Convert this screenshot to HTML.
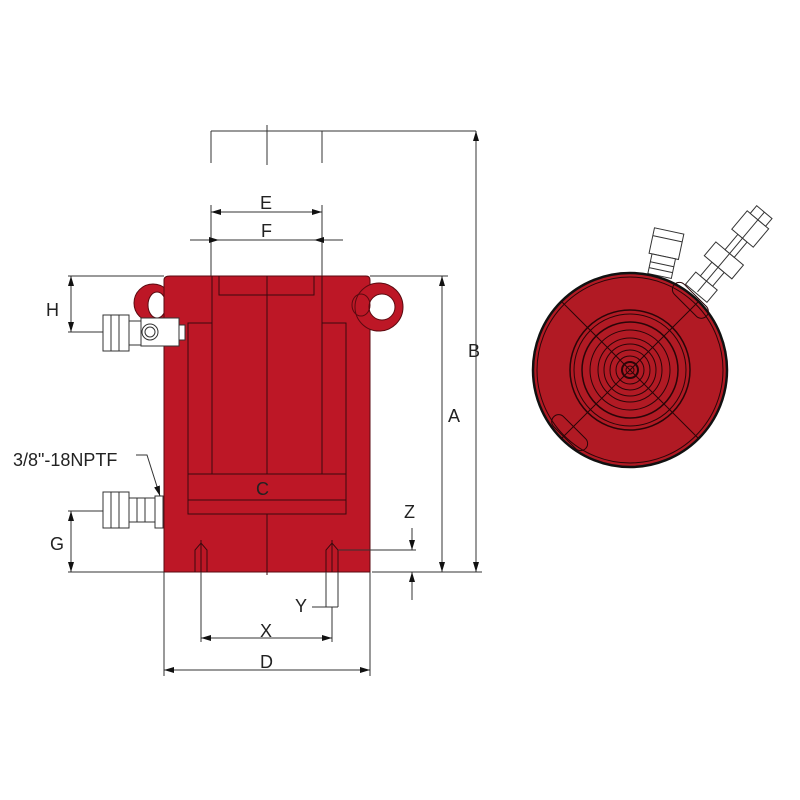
<!DOCTYPE html>
<html><head><meta charset="utf-8"><style>html,body{margin:0;padding:0;background:#fff}svg{display:block}text{font-family:"Liberation Sans",sans-serif;font-size:18px;fill:#222}</style></head><body>
<svg width="800" height="800" viewBox="0 0 800 800" xmlns="http://www.w3.org/2000/svg">
<defs>
<marker id="a" viewBox="0 0 10 6" refX="10" refY="3" markerWidth="10" markerHeight="6" orient="auto-start-reverse" markerUnits="userSpaceOnUse"><path d="M0,0L10,3L0,6z" fill="#111"/></marker>
</defs>
<g stroke="#333" stroke-width="1" fill="none">
<path d="M211,131H476M211,131V163M322,131V163M267,125V165"/>
<line x1="211" y1="212" x2="322" y2="212" marker-start="url(#a)" marker-end="url(#a)"/>
<path d="M211,205V276M322,205V276"/>
<line x1="190" y1="240" x2="219" y2="240" marker-end="url(#a)"/>
<line x1="343" y1="240" x2="314" y2="240" marker-end="url(#a)"/>
<path d="M219,240H314"/>
<path d="M370,276H448M372,572H482M68,276H164M68,572H164"/>
<line x1="476" y1="131" x2="476" y2="572" marker-start="url(#a)" marker-end="url(#a)"/>
<line x1="442" y1="276" x2="442" y2="572" marker-start="url(#a)" marker-end="url(#a)"/>
<line x1="71" y1="276" x2="71" y2="332" marker-start="url(#a)" marker-end="url(#a)"/>
<path d="M68,332H190"/>
<line x1="71" y1="511" x2="71" y2="572" marker-start="url(#a)" marker-end="url(#a)"/>
<path d="M68,511H170"/>
</g>
<circle cx="153" cy="303" r="19" fill="#bd1726" stroke="#5a0a10"/>
<ellipse cx="157" cy="305" rx="9" ry="13" fill="#fff" stroke="#5a0a10"/>
<path d="M164,280Q164,276 170,276H366Q370,276 370,280V572H164Z" fill="#bd1726" stroke="#5a0a10"/>
<circle cx="379" cy="307" r="24" fill="#bd1726" stroke="#5a0a10"/>
<circle cx="382" cy="307" r="13" fill="#fff" stroke="#5a0a10"/>
<ellipse cx="361" cy="305" rx="9" ry="11" fill="none" stroke="#5a0a10"/>
<g stroke="#3a0a0e" stroke-width="1" fill="none">
<path d="M219,276V295H314V276M267,276V474M267,514V575"/>
<path d="M188,474V323H212V474M346,474V323H322V474M212,276V323M322,276V323"/>
<rect x="188" y="474" width="158" height="40"/>
<path d="M188,500H346"/>
<path d="M195,572V550L201,543L207,550V572M326,572V550L332,543L338,550V572M201,540V572M332,540V572"/>
</g>
<g stroke="#333" fill="#fff" stroke-width="1">
<rect x="103" y="315" width="26" height="36"/>
<path d="M111,315V351M119,315V351"/>
<rect x="129" y="321" width="12" height="24"/>
<rect x="141" y="318" width="38" height="28"/>
<circle cx="150" cy="332" r="8"/><circle cx="150" cy="332" r="5"/>
<rect x="179" y="325" width="6" height="15"/>
<rect x="103" y="492" width="26" height="36"/>
<path d="M111,492V528M119,492V528"/>
<rect x="129" y="498" width="26" height="24"/>
<path d="M137,498V522M145,498V522"/>
<rect x="155" y="496" width="8" height="32"/>
</g>
<g stroke="#333" fill="none">
<path d="M136,455H147L160,496" marker-end="url(#a)"/>
<line x1="201" y1="572" x2="201" y2="642"/>
<path d="M326,572V607M338,572V607M312,607H338M332,607V642"/>
<line x1="201" y1="638" x2="332" y2="638" marker-start="url(#a)" marker-end="url(#a)"/>
<path d="M164,572V676M370,572V676"/>
<line x1="164" y1="670" x2="370" y2="670" marker-start="url(#a)" marker-end="url(#a)"/>
<path d="M338,550H416"/>
<line x1="412" y1="528" x2="412" y2="550" marker-end="url(#a)"/>
<line x1="412" y1="600" x2="412" y2="572" marker-end="url(#a)"/>
</g>
<text x="260" y="209">E</text><text x="261" y="237">F</text>
<text x="46" y="316">H</text><text x="468" y="357">B</text><text x="448" y="422">A</text>
<text x="256" y="495">C</text><text x="50" y="550">G</text>
<text x="13" y="466">3/8"-18NPTF</text>
<text x="404" y="518">Z</text><text x="295" y="612">Y</text>
<text x="260" y="637">X</text><text x="260" y="668">D</text>
<g stroke="#333" fill="#fff">
<g transform="rotate(12 662 255)"><rect x="649" y="230" width="30" height="26"/><rect x="652" y="256" width="24" height="20"/><path d="M649,238H679M652,264H676M652,270H676"/></g>
<g transform="rotate(40 720 265)"><rect x="706" y="286" width="28" height="16"/><rect x="712" y="268" width="16" height="18"/><rect x="702" y="250" width="36" height="18"/><rect x="714" y="230" width="12" height="20"/><rect x="706" y="206" width="28" height="24"/><rect x="710" y="196" width="20" height="10"/><path d="M720,196V300"/></g>
</g>
<circle cx="630" cy="370" r="97" fill="#b11a24" stroke="#111" stroke-width="2.5"/>
<g stroke="#2a0508" fill="none" stroke-width="1">
<circle cx="630" cy="370" r="93"/>
<circle cx="630" cy="370" r="60" stroke-width="1.5"/><circle cx="630" cy="370" r="56"/>
<circle cx="630" cy="370" r="48" stroke-width="1.5"/><circle cx="630" cy="370" r="40"/>
<circle cx="630" cy="370" r="32"/><circle cx="630" cy="370" r="26"/><circle cx="630" cy="370" r="20"/><circle cx="630" cy="370" r="14"/>
<circle cx="630" cy="370" r="8" stroke-width="2"/><circle cx="630" cy="370" r="4"/>
<path d="M561,301L699,439M699,301L561,439"/>
<rect x="668" y="293" width="45" height="14" rx="7" transform="rotate(45 690 300)"/>
<rect x="547" y="426" width="45" height="14" rx="7" transform="rotate(45 570 433)"/>
</g>
</svg>
</body></html>
